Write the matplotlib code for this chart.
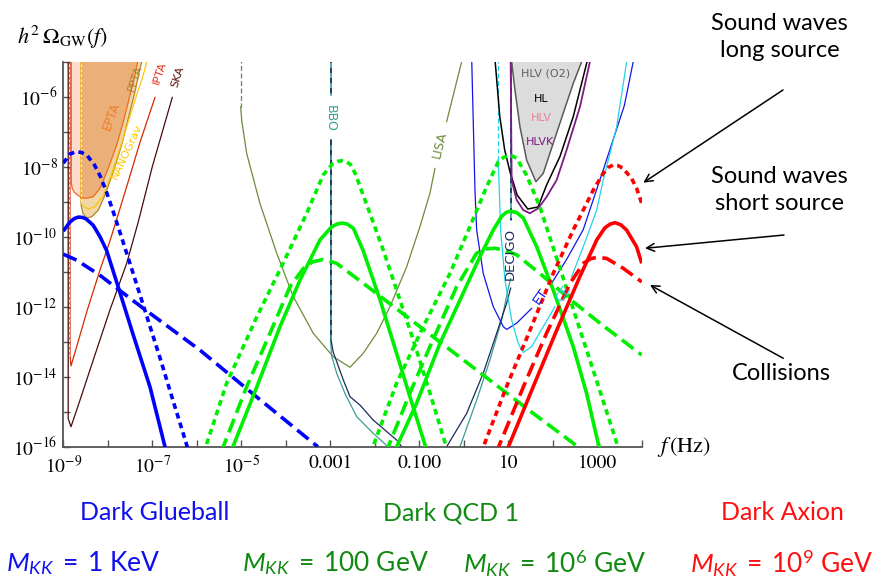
import numpy as np
import matplotlib.pyplot as plt
from matplotlib.ticker import NullFormatter
from matplotlib.patches import FancyArrowPatch

plt.rcParams['font.family'] = 'Lato'
plt.rcParams['mathtext.fontset'] = 'stix'
plt.rcParams['mathtext.rm'] = 'Lato'
plt.rcParams['mathtext.it'] = 'Lato:italic'
plt.rcParams['mathtext.bf'] = 'Lato:bold'

# every curve: log10(f / Hz) and log10(h^2 Omega_GW)

# Dark Glueball, M_KK = 1 KeV
glue_long_f = [-9.00, -8.85, -8.72, -8.60, -8.47, -8.30, -8.17, -8.03, -7.88, -7.70, -7.43, -7.13, -6.83, -6.53, -6.25, -6.15]
glue_long_o = [-7.90, -7.64, -7.57, -7.59, -7.67, -7.95, -8.27, -8.72, -9.28, -9.98, -11.05, -12.25, -13.45, -14.70, -15.85, -16.3]
glue_short_f = [-9.00, -8.85, -8.75, -8.66, -8.57, -8.49, -8.33, -8.175, -8.025, -7.80, -7.43, -7.05, -6.715, -6.64]
glue_short_o = [-9.84, -9.58, -9.48, -9.44, -9.45, -9.49, -9.67, -10.00, -10.40, -11.30, -12.80, -14.30, -16.00, -16.3]
glue_coll_f = [-9.00, -8.70, -8.18, -7.20, -5.93, -4.73, -3.38, -3.28]
glue_coll_o = [-10.50, -10.67, -11.10, -12.05, -13.24, -14.50, -15.90, -16.0]

# Dark QCD 1, M_KK = 100 GeV
qcd1_long_f = [-5.85, -5.33, -4.65, -4.06, -3.53, -3.16, -2.95, -2.84, -2.74, -2.64, -2.55, -2.44, -2.11, -1.81, -1.51, -1.135, -0.76, -0.38]
qcd1_long_o = [-16.2, -14.19, -12.29, -10.76, -9.33, -8.24, -7.92, -7.85, -7.83, -7.86, -7.93, -8.19, -9.33, -10.38, -11.52, -12.95, -14.47, -16.05]
qcd1_short_f = [-5.25, -4.65, -4.13, -3.68, -3.23, -2.97, -2.85, -2.74, -2.62, -2.48, -2.26, -1.88, -1.51, -1.21, -0.87, -0.82]
qcd1_short_o = [-16.2, -14.29, -12.57, -11.24, -10.09, -9.72, -9.64, -9.61, -9.64, -9.76, -10.40, -11.81, -13.33, -14.57, -15.95, -16.2]
qcd1_coll_f = [-5.45, -4.88, -4.355, -3.906, -3.60, -3.40, -3.16, -2.86, -2.26, -1.51, -0.76, -0.01, 0.75, 1.50, 2.46, 2.60]
qcd1_coll_o = [-16.15, -14.29, -12.76, -11.43, -10.90, -10.72, -10.65, -10.76, -11.33, -12.06, -12.79, -13.52, -14.26, -14.99, -15.90, -16.05]

# Dark QCD 1, M_KK = 10^6 GeV
qcd6_long_f = [-2.10, -1.51, -0.91, -0.31, 0.14, 0.515, 0.775, 0.90, 1.00, 1.10, 1.19, 1.41, 1.71, 1.94, 2.24, 2.61, 2.99, 3.44, 3.48]
qcd6_long_o = [-16.2, -14.19, -12.57, -11.05, -9.71, -8.57, -7.86, -7.73, -7.69, -7.70, -7.76, -8.24, -9.14, -10.04, -11.20, -12.65, -14.13, -15.90, -16.05]
qcd6_short_f = [-1.56, -1.06, -0.535, -0.085, 0.364, 0.663, 0.85, 0.95, 1.04, 1.19, 1.34, 1.64, 2.01, 2.46, 2.76, 3.02, 3.07]
qcd6_short_o = [-16.15, -14.76, -13.05, -11.81, -10.57, -9.81, -9.42, -9.31, -9.27, -9.31, -9.47, -10.29, -11.52, -13.14, -14.47, -15.90, -16.1]
qcd6_coll_f = [-1.76, -1.21, -0.76, -0.16, 0.29, 0.50, 0.70, 0.95, 1.19, 1.71, 2.46, 3.06, 4.00]
qcd6_coll_o = [-16.2, -14.47, -13.14, -11.43, -10.47, -10.35, -10.33, -10.40, -10.52, -11.05, -11.86, -12.47, -13.38]

# Dark Axion, M_KK = 10^9 GeV
axion_long_f = [0.38, 0.96, 1.49, 2.01, 2.46, 2.91, 3.135, 3.25, 3.36, 3.47, 3.58, 3.77, 3.885, 4.00]
axion_long_o = [-16.2, -14.29, -12.67, -11.05, -9.81, -8.67, -8.19, -8.02, -7.95, -7.97, -8.05, -8.33, -8.62, -9.05]
axion_short_f = [0.94, 1.56, 2.09, 2.61, 2.99, 3.17, 3.29, 3.40, 3.53, 3.66, 3.885, 4.00]
axion_short_o = [-16.2, -14.29, -12.67, -11.14, -10.09, -9.75, -9.64, -9.60, -9.66, -9.81, -10.29, -10.76]
axion_coll_f = [0.72, 1.34, 1.86, 2.39, 2.69, 2.85, 2.99, 3.21, 3.58, 4.00]
axion_coll_o = [-16.2, -14.29, -12.76, -11.33, -10.76, -10.63, -10.59, -10.62, -10.90, -11.29]

# pulsar timing arrays
epta_f = [-8.82, -8.82, -8.80, -8.74, -8.587, -8.474, -8.33, -8.175, -7.99, -7.80, -7.65, -7.50, -7.39, -7.33, -7.28]
epta_o = [-4.5, -8.45, -8.62, -8.75, -8.89, -8.90, -8.86, -8.62, -8.05, -7.38, -6.71, -5.95, -5.38, -5.00, -4.8]
nano_f = [-8.60, -8.60, -8.587, -8.438, -8.288, -8.101, -7.912, -7.726, -7.539, -7.351, -7.202, -7.126, -7.09]
nano_o = [-4.5, -8.95, -9.09, -9.21, -9.14, -8.81, -8.19, -7.47, -6.71, -5.95, -5.38, -5.00, -4.85]
ppta_f = [-8.60, -8.60, -8.56, -8.474, -8.36, -8.213, -8.063, -7.876, -7.688, -7.539, -7.389, -7.276, -7.225, -7.19]
ppta_o = [-4.5, -9.10, -9.33, -9.47, -9.43, -9.24, -8.81, -8.14, -7.38, -6.62, -5.86, -5.19, -4.95, -4.8]
ipta_f = [-8.85, -8.85, -8.827, -8.699, -8.474, -8.175, -7.951, -7.575, -7.276, -6.939]
ipta_o = [-4.5, -13.4, -13.69, -13.14, -12.15, -10.95, -10.12, -8.57, -7.30, -6.02]
ska_f = [-8.89, -8.89, -8.827, -8.625, -8.326, -7.951, -7.575, -7.32, -7.00, -6.551]
ska_o = [-4.5, -15.2, -15.43, -14.67, -13.52, -12.09, -10.76, -9.60, -8.00, -6.02]

# space interferometers
lisa_wall_f = [-5.013, -5.013]
lisa_wall_o = [-4.9, -6.29]
lisa_f = [-5.013, -4.991, -4.879, -4.58, -4.204, -3.831, -3.382, -2.933, -2.557, -2.258, -1.957, -1.658, -1.283, -0.984, -0.76, -0.648]
lisa_o = [-6.29, -6.67, -7.62, -9.05, -10.47, -11.71, -12.76, -13.43, -13.73, -13.33, -12.76, -12.00, -10.86, -9.71, -8.76, -8.05]
lisa_top_f = [-0.384, -0.047, 0.0]
lisa_top_o = [-6.71, -5.00, -4.85]
bbo_left_f = [-2.991, -2.991, -2.97, -2.856, -2.67, -2.407, -2.034, -1.703, -1.60]
bbo_left_o = [-7.24, -13.0, -13.4, -13.90, -14.48, -15.14, -15.62, -16.0, -16.1]
bbo_right_f = [-0.16, -0.085, 0.29, 0.589, 0.852, 0.993, 1.054]
bbo_right_o = [-16.3, -16.0, -14.67, -13.52, -12.38, -11.52, -11.20]
decigo_left_f = [-2.991, -2.991, -2.933, -2.708, -2.557, -2.333, -2.034, -1.508, -1.396, -1.30]
decigo_left_o = [-7.24, -12.9, -13.3, -14.09, -14.57, -14.81, -15.24, -15.81, -16.0, -16.1]
decigo_right_f = [-0.46, -0.384, 0.065, 0.438, 0.739, 0.964, 1.054]
decigo_right_o = [-16.2, -16.0, -15.05, -13.90, -12.76, -11.90, -11.47]
wall_top_o = [-4.9, -5.95]
wall_low_f = 1.054
wall_low_o = [-4.9, -9.53]
bbo_gap = -2.991

# ground based detectors
et_f = [0.178, 0.252, 0.29, 0.438, 0.663, 0.888, 0.964, 1.189, 1.526]
et_o = [-4.9, -8.67, -9.81, -11.05, -12.00, -12.57, -12.65, -12.47, -12.05]
et_top_f = [1.975, 2.312, 2.685, 3.135, 3.61, 3.809, 3.85]
et_top_o = [-11.33, -10.65, -9.80, -8.09, -6.25, -5.00, -4.85]
ce_wall_f = [0.775, 0.775]
ce_wall_o = [-4.9, -7.81]
ce_f = [0.775, 0.829, 0.926, 1.076, 1.225, 1.337, 1.526, 1.787, 2.049]
ce_o = [-7.81, -9.81, -11.24, -12.38, -13.05, -13.31, -13.14, -12.57, -12.00]
ce_top_f = [2.425, 2.685, 2.987, 3.135, 3.436, 3.661, 3.70]
ce_top_o = [-11.14, -10.29, -9.24, -8.38, -6.86, -5.00, -4.85]
o2_f = [1.06, 1.076, 1.151, 1.263, 1.413, 1.622, 1.787, 2.011, 2.236, 2.461, 2.65, 2.69]
o2_o = [-4.8, -5.00, -5.81, -6.86, -7.81, -8.43, -8.19, -7.33, -6.47, -5.62, -5.00, -4.8]
hl_f = [0.70, 0.81, 0.92, 1.04, 1.20, 1.44, 1.67, 1.863, 2.162, 2.461, 2.791]
hl_o = [-4.9, -6.57, -7.52, -8.15, -8.81, -9.21, -9.15, -8.52, -7.71, -6.57, -4.9]
hlvk_f = [1.054, 1.076, 1.189, 1.337, 1.488, 1.674, 1.863, 2.088, 2.312, 2.612, 2.836, 2.87]
hlvk_o = [-4.9, -8.38, -8.95, -9.24, -9.33, -9.19, -8.86, -8.38, -7.52, -6.29, -5.00, -4.85]

xtick_vals = [-9, -7, -5, -3, -1, 1, 3]
xtick_labels = ['$10^{-9}$', '$10^{-7}$', '$10^{-5}$', '0.001', '0.100', '10', '1000']
ytick_vals = [-16, -14, -12, -10, -8, -6]
ytick_labels = ['$10^{-16}$', '$10^{-14}$', '$10^{-12}$', '$10^{-10}$', '$10^{-8}$', '$10^{-6}$']


def xy(f, o):
    return 10.0 ** np.asarray(f, dtype=float), 10.0 ** np.asarray(o, dtype=float)


fig = plt.figure(figsize=(8.78, 5.82), dpi=100)
ax = fig.add_axes([0.0721, 0.2325, 0.6588, 0.6615])
ax.set_xscale('log')
ax.set_yscale('log')
ax.set_xlim(1e-9, 1e4)
ax.set_ylim(1e-16, 1e-5)

# PTA shaded regions
ax.fill(*xy(ppta_f, ppta_o), color='#efd8a6', lw=0, zorder=1)
ax.fill(*xy(epta_f, epta_o), color='#fcdccd', lw=0, zorder=1)
ef, eo = np.array(epta_f), np.array(epta_o)
keep = ef >= -8.6
ax.fill(*xy(np.r_[-8.6, -8.6, ef[keep]], np.r_[-4.5, -8.88, eo[keep]]),
        color='#ebb078', lw=0, zorder=1)

thin = 0.9
ax.plot(*xy(ppta_f, ppta_o), color='#b08428', lw=thin, zorder=2)
ax.plot(*xy(nano_f, nano_o), color='#ffc40c', lw=thin, zorder=2)
ax.plot(*xy(epta_f, epta_o), color='#f26a1b', lw=thin, zorder=2)
ax.plot(*xy(ipta_f, ipta_o), color='#d42a00', lw=thin, zorder=2)
ax.plot(*xy(ska_f, ska_o), color='#4b0a0a', lw=thin, zorder=2)
ax.plot(*xy([-8.6, -8.6], [-4.5, -9.0]), color='white', lw=0.6, ls=(0, (3, 3)), zorder=2)
ax.plot(*xy([-8.87, -8.87], [-4.5, -15.2]), color='white', lw=0.6, ls=(0, (3, 3)), zorder=2)

# LISA
ax.plot(*xy(lisa_wall_f, lisa_wall_o), color='#6d8b3c', lw=thin, ls=(0, (4, 2)), zorder=2)
ax.plot(*xy(lisa_f, lisa_o), color='#6d8b3c', lw=thin, zorder=2)
ax.plot(*xy(lisa_top_f, lisa_top_o), color='#6d8b3c', lw=thin, zorder=2)

# BBO / DECIGO
teal, navy = '#3a9d93', '#1c2b5a'
ax.plot(*xy(bbo_left_f, bbo_left_o), color=teal, lw=thin, zorder=2)
ax.plot(*xy(bbo_right_f, bbo_right_o), color=teal, lw=thin, zorder=2)
ax.plot(*xy(decigo_left_f, decigo_left_o), color=navy, lw=thin, zorder=2)
ax.plot(*xy(decigo_right_f, decigo_right_o), color=navy, lw=thin, zorder=2)
for f0, ospan in [(bbo_gap, wall_top_o), (bbo_gap, [-7.24, -12.9]), (wall_low_f, wall_low_o)]:
    ax.plot(*xy([f0, f0], ospan), color=teal, lw=1.2, zorder=2)
    ax.plot(*xy([f0, f0], ospan), color=navy, lw=1.2, ls=(0, (3, 3)), zorder=2)

# ET / CE / LIGO-Virgo
ax.plot(*xy(et_f, et_o), color='#1414e6', lw=thin, zorder=2)
ax.plot(*xy(et_top_f, et_top_o), color='#1414e6', lw=thin, zorder=2)
ax.plot(*xy(ce_wall_f, ce_wall_o), color='#21d4e8', lw=thin, ls=(0, (4, 2)), zorder=2)
ax.plot(*xy(ce_f, ce_o), color='#21d4e8', lw=thin, zorder=2)
ax.plot(*xy(ce_top_f, ce_top_o), color='#21d4e8', lw=thin, zorder=2)
ax.fill(*xy(o2_f, o2_o), facecolor='#dcdcdc', edgecolor='#5a5a5a', lw=1.1, zorder=2)
ax.plot(*xy(hl_f, hl_o), color='black', lw=1.1, zorder=2)
ax.plot(*xy(hlvk_f, hlvk_o), color='#7d1a85', lw=1.3, zorder=2)

# signals
DOT = (0, (1.6, 1.2))
DASH = (0, (4.0, 1.8))
signals = [
    (glue_long_f, glue_long_o, '#0000ff', DOT),
    (glue_short_f, glue_short_o, '#0000ff', '-'),
    (glue_coll_f, glue_coll_o, '#0000ff', DASH),
    (qcd1_long_f, qcd1_long_o, '#00ee00', DOT),
    (qcd1_short_f, qcd1_short_o, '#00ee00', '-'),
    (qcd1_coll_f, qcd1_coll_o, '#00ee00', DASH),
    (qcd6_long_f, qcd6_long_o, '#00ee00', DOT),
    (qcd6_short_f, qcd6_short_o, '#00ee00', '-'),
    (qcd6_coll_f, qcd6_coll_o, '#00ee00', DASH),
    (axion_long_f, axion_long_o, '#ff0000', DOT),
    (axion_short_f, axion_short_o, '#ff0000', '-'),
    (axion_coll_f, axion_coll_o, '#ff0000', DASH),
]
for f, o, c, ls in signals:
    ax.plot(*xy(f, o), color=c, lw=2.6, ls=ls, zorder=3,
            solid_joinstyle='round', solid_capstyle='butt', dash_capstyle='butt')

# detector labels
def lab(f, o, s, c, rot, size=8.5):
    ax.text(10.0 ** f, 10.0 ** o, s, color=c, rotation=rot, fontsize=size,
            ha='center', va='center', rotation_mode='anchor', family='DejaVu Sans', zorder=4)

lab(-7.912, -6.57, 'EPTA', '#f27a2a', 70, 8.5)
lab(-7.575, -7.57, 'NANOGrav', '#ffc800', 65, 8)
lab(-7.389, -5.47, 'PPTA', '#a8822b', 72, 8)
lab(-6.827, -5.33, 'IPTA', '#e03020', 72, 8)
lab(-6.42, -5.44, 'SKA', '#5a1010', 72, 8)
lab(-2.991, -6.62, 'BBO', teal, -90, 9)
lab(-0.535, -7.38, 'LISA', '#6d8b3c', 76, 9)
lab(1.054, -10.49, 'DECIGO', navy, 90, 9.5)
lab(1.73, -11.71, 'ET', '#1414e6', 55, 9.5)
lab(2.236, -11.62, 'CE', '#21d4e8', 55, 9.5)
lab(1.83, -5.35, 'HLV (O2)', '#606060', 0, 8)
lab(1.73, -6.07, 'HL', 'black', 0, 8)
lab(1.75, -6.62, 'HLV', '#e8809a', 0, 8)
lab(1.71, -7.29, 'HLVK', '#7d1a85', 0, 8)

# axes styling
for side in ['top', 'right']:
    ax.spines[side].set_visible(False)
for side in ['left', 'bottom']:
    ax.spines[side].set_color('#555555')
    ax.spines[side].set_linewidth(1.3)
ax.set_xticks([10.0 ** v for v in xtick_vals])
ax.set_xticklabels(xtick_labels, fontfamily='STIXGeneral', fontsize=14)
ax.set_xticks([10.0 ** (v + 1) for v in xtick_vals], minor=True)
ax.set_yticks([10.0 ** v for v in ytick_vals])
ax.set_yticklabels(ytick_labels, fontfamily='STIXGeneral', fontsize=14)
ax.set_yticks([10.0 ** (v + 1) for v in ytick_vals], minor=True)
ax.xaxis.set_minor_formatter(NullFormatter())
ax.yaxis.set_minor_formatter(NullFormatter())
ax.tick_params(which='both', direction='in', color='#555555', width=1.0, length=5)
ax.tick_params(axis='x', pad=6)
ax.tick_params(axis='y', pad=4)

fig.text(0.0706, 0.936, r'$h^2\,\Omega_{\mathrm{GW}}(f)$', fontsize=16, ha='center', va='center')
fig.text(0.748, 0.232, r'$f\,(\mathrm{Hz})$', fontsize=16, ha='left', va='center')

# annotations
fig.text(0.888, 0.936, 'Sound waves\nlong source', fontsize=17, ha='center', va='center', linespacing=1.35)
fig.text(0.888, 0.674, 'Sound waves\nshort source', fontsize=17, ha='center', va='center', linespacing=1.35)
fig.text(0.890, 0.359, 'Collisions', fontsize=17, ha='center', va='center')
arrow = dict(arrowstyle='->', color='black', lw=1.1, mutation_scale=14, shrinkA=0, shrinkB=0)
for tip, tail in [((0.7327, 0.6861), (0.8918, 0.8454)),
                  ((0.7346, 0.5734), (0.8929, 0.5962)),
                  ((0.7403, 0.5103), (0.8921, 0.3844))]:
    fig.add_artist(FancyArrowPatch(tail, tip, transform=fig.transFigure, **arrow))

fig.text(155 / 878, 1 - 513 / 582, 'Dark Glueball', color='#1010ee', fontsize=18, ha='center', va='center')
fig.text(451 / 878, 1 - 513 / 582, 'Dark QCD 1', color='#118a11', fontsize=18, ha='center', va='center')
fig.text(782 / 878, 1 - 513 / 582, 'Dark Axion', color='#ff1010', fontsize=18, ha='center', va='center')
for xc, s, c in [(83, r'$M_{KK}\;=\;1$ KeV', '#1010ee'),
                 (335, r'$M_{KK}\;=\;100$ GeV', '#118a11'),
                 (555, r'$M_{KK}\;=\;10^6$ GeV', '#118a11'),
                 (782, r'$M_{KK}\;=\;10^9$ GeV', '#ff1010')]:
    fig.text(xc / 878, 1 - 563 / 582, s, color=c, fontsize=19, ha='center', va='center',
             math_fontfamily='custom')

fig.savefig('out.png', dpi=100)
